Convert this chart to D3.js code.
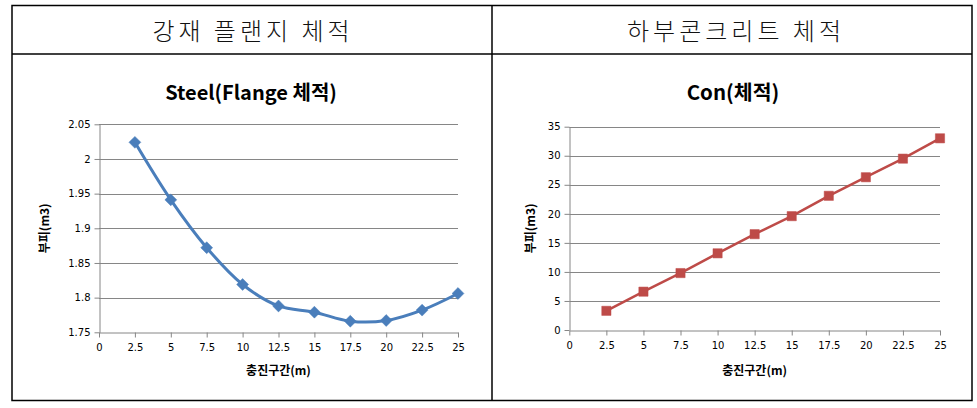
<!DOCTYPE html>
<html><head><meta charset="utf-8">
<script src="https://cdn.jsdelivr.net/npm/d3@7"></script>
<style>body{margin:0;background:#fff}svg{display:block}</style>
</head><body>
<svg id="c" width="977" height="408"></svg>
<script>
const headers = ["강재 플랜지 체적", "하부콘크리트 체적"];
const chartTitles = ["Steel(Flange 체적)", "Con(체적)"];
const xLabel = "충진구간(m)";
const yLabel = "부피(m3)";
const xValues = [2.5, 5, 7.5, 10, 12.5, 15, 17.5, 20, 22.5, 25];
const xTicks = [0, 2.5, 5, 7.5, 10, 12.5, 15, 17.5, 20, 22.5, 25];
const steelValues = [2.024, 1.941, 1.872, 1.819, 1.788, 1.779, 1.766, 1.767, 1.782, 1.806];
const steelTicks = [1.75, 1.8, 1.85, 1.9, 1.95, 2, 2.05];
const conValues = [3.3, 6.6, 9.8, 13.2, 16.5, 19.6, 23.1, 26.3, 29.5, 33.0];
const conTicks = [0, 5, 10, 15, 20, 25, 30, 35];

const svg = d3.select("#c");
// table
const T = {l:12, r:972, t:5.5, h:54, b:400.5, m:492};
const tg = svg.append("g").attr("stroke","#000").attr("stroke-width",1.5).attr("fill","none");
tg.append("rect").attr("x",T.l).attr("y",T.t).attr("width",T.r-T.l).attr("height",T.b-T.t);
tg.append("line").attr("x1",T.l).attr("x2",T.r).attr("y1",T.h).attr("y2",T.h);
tg.append("line").attr("x1",T.m).attr("x2",T.m).attr("y1",T.t).attr("y2",T.b);

svg.selectAll("text.hdr").data(headers).join("text").attr("class","hdr")
  .attr("x",(d,i)=> i===0 ? 253 : 736).attr("y",40)
  .attr("text-anchor","middle").attr("font-family","'Noto Sans CJK KR'")
  .attr("font-weight",300)
  .attr("font-size",24).attr("letter-spacing",4).attr("fill","#111").text(d=>d);

function chart(cfg){
  const g = svg.append("g");
  const x = d3.scaleLinear().domain([0,25]).range([cfg.x0,cfg.x1]);
  const y = d3.scaleLinear().domain(cfg.yDom).range([cfg.y0,cfg.y1]);
  // gridlines
  g.append("g").selectAll("line").data(cfg.yTicks.slice(1)).join("line")
    .attr("x1",cfg.x0).attr("x2",cfg.x1).attr("y1",d=>Math.round(y(d))+0.5).attr("y2",d=>Math.round(y(d))+0.5)
    .attr("stroke","#868686").attr("stroke-width",1);
  // y axis
  const ya = g.append("g").attr("transform",`translate(${Math.round(cfg.x0)+0.5},0)`)
    .call(d3.axisLeft(y).tickValues(cfg.yTicks).tickSize(5).tickSizeOuter(0).tickPadding(4).tickFormat(d=>d3.format("")(d)));
  // x axis
  const xa = g.append("g").attr("transform",`translate(0,${Math.round(cfg.y0)+0.5})`)
    .call(d3.axisBottom(x).tickValues(xTicks).tickSize(5).tickSizeOuter(0).tickPadding(6).tickFormat(d=>d3.format("")(d)));
  [ya,xa].forEach(a=>{
    a.selectAll("path,line").attr("stroke","#868686");
    a.selectAll("text").attr("font-family","'DejaVu Sans'").attr("font-size",10).attr("fill","#000");
  });
  // line
  const line = d3.line().x((d,i)=>x(xValues[i])).y(d=>y(d)).curve(cfg.curve);
  g.append("path").datum(cfg.values).attr("d",line).attr("fill","none")
    .attr("stroke",cfg.color).attr("stroke-width",cfg.lw).attr("stroke-linejoin","round");
  // markers
  g.append("g").selectAll("path").data(cfg.values).join("path")
    .attr("transform",(d,i)=>`translate(${x(xValues[i])},${y(d)})`)
    .attr("d",d3.symbol().type(cfg.symbol).size(cfg.msize))
    .attr("fill",cfg.color).attr("stroke",cfg.color).attr("stroke-width",0.5);
  // title
  g.append("text").attr("x",cfg.tx).attr("y",100).attr("text-anchor","middle")
    .attr("font-family","'Noto Sans CJK KR'").attr("font-weight",700).attr("font-size",cfg.tsize)
    .attr("fill","#000").text(cfg.title);
  // x label
  g.append("text").attr("x",(cfg.x0+cfg.x1)/2).attr("y",375).attr("text-anchor","middle")
    .attr("font-family","'Noto Sans CJK KR'").attr("font-weight",700).attr("font-size",12)
    .attr("fill","#000").text(xLabel);
  // y label
  g.append("text").attr("transform",`translate(${cfg.ylx},${(cfg.y0+cfg.y1)/2}) rotate(-90)`)
    .attr("text-anchor","middle")
    .attr("font-family","'Noto Sans CJK KR'").attr("font-weight",700).attr("font-size",12)
    .attr("fill","#000").text(yLabel);
}

chart({x0:99, x1:458, y0:332.3, y1:124.3, yDom:[1.75,2.05], yTicks:steelTicks, values:steelValues,
  color:"#4a7ebb", lw:3, symbol:d3.symbolDiamond2, msize:90, curve:d3.curveCatmullRom.alpha(0.5),
  title:chartTitles[0], tx:251, tsize:20, ylx:49});
chart({x0:569.3, x1:940, y0:330, y1:126.7, yDom:[0,35], yTicks:conTicks, values:conValues,
  color:"#be4b48", lw:2.5, symbol:d3.symbolSquare, msize:85, curve:d3.curveLinear,
  title:chartTitles[1], tx:733, tsize:20.5, ylx:535});
</script>
</body></html>
